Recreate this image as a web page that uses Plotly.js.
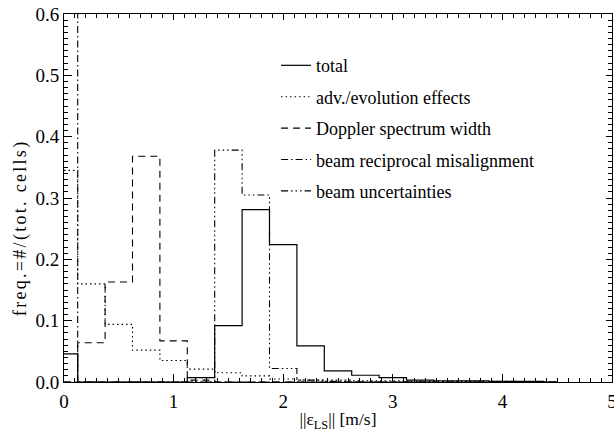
<!DOCTYPE html>
<html>
<head>
<meta charset="utf-8">
<script src="https://cdn.plot.ly/plotly-3.0.1.min.js"></script>
<style>
html,body{margin:0;padding:0;background:#fff;}
#chart{width:614px;height:432px;}
#chart .annotation-text{letter-spacing:2.3px;}
</style>
</head>
<body>
<div id="chart"></div>
<script>
// bin centres [m/s] (bin width 0.25)
const binCenters = [0, 0.25, 0.5, 0.75, 1.0, 1.25, 1.5, 1.75, 2.0, 2.25, 2.5, 2.75, 3.0, 3.25, 3.5, 3.75, 4.0, 4.25, 4.5];
const totalFreq     = [0.046, 0, 0, 0, 0, 0.007, 0.092, 0.281, 0.224, 0.059, 0.018, 0.011, 0.007, 0.003, 0.002, 0.002, 0.001, 0.001, 0];
const advFreq       = [0.345, 0.160, 0.094, 0.052, 0.035, 0.021, 0.015, 0.010, 0.005, 0.003, 0.003, 0.002, 0.002, 0.001, 0.001, 0.001, 0.001, 0, 0];
const dopplerFreq   = [0, 0.064, 0.163, 0.368, 0.067, 0.003, 0, 0, 0, 0, 0, 0, 0, 0, 0, 0, 0, 0, 0];
const reciprocFreq  = [0.96, 0, 0, 0, 0, 0, 0, 0, 0, 0, 0, 0, 0, 0, 0, 0, 0, 0, 0];
const uncertFreq    = [0, 0, 0, 0, 0, 0, 0.378, 0.305, 0.022, 0.003, 0.001, 0, 0, 0, 0, 0, 0, 0, 0];
const seriesNames = ["total", "adv./evolution effects", "Doppler spectrum width", "beam reciprocal misalignment", "beam uncertainties"];
const xTickVals = [0, 1, 2, 3, 4, 5];
const yTickVals = [0, 0.1, 0.2, 0.3, 0.4, 0.5, 0.6];
const xTitle = "||ε<sub>LS</sub>|| [m/s]";
const yTitle = "freq.=#/(tot. cells)";

const FONT = '"Liberation Serif", "Times New Roman", Times, serif';
const dashes = ["solid", "1.5px,3px", "7px,5px", "7px,3px,1.5px,3px", "7px,3px,1.5px,3px,1.5px,3px,1.5px,3px"];
const widths = [1.2, 1.1, 1.1, 1.1, 1.1];
const ys = [totalFreq, advFreq, dopplerFreq, reciprocFreq, uncertFreq];

const traces = ys.map((y, i) => ({
  x: binCenters, y: y, type: "scatter", mode: "lines",
  name: seriesNames[i], legendgroup: "g" + i,
  line: {shape: "hvh", color: "#000", width: widths[i], dash: dashes[i]},
  hoverinfo: "skip"
}));
// empty trace so the mirrored (top/right) tick axes exist
traces.push({x: [], y: [], xaxis: "x2", yaxis: "y2", type: "scatter", mode: "lines", showlegend: false, hoverinfo: "skip"});

const tickFont = {family: FONT, size: 19, color: "#000"};
const axisCommon = {
  showgrid: false, zeroline: false, showline: true, linecolor: "#000", linewidth: 1,
  ticks: "inside", ticklen: 8, tickcolor: "#000", tickwidth: 1, tickfont: tickFont
};
const xMinor = {dtick: 0.1, ticklen: 4, ticks: "inside", tickcolor: "#000", showgrid: false};
const yMinor = {dtick: 0.01, ticklen: 4, ticks: "inside", tickcolor: "#000", showgrid: false};

const layout = {
  width: 614, height: 432,
  font: {family: FONT, size: 17, color: "#000"},
  margin: {l: 64, r: 2, t: 14, b: 50},
  paper_bgcolor: "#fff", plot_bgcolor: "#fff",
  showlegend: true,
  legend: {x: 0.387, xanchor: "left", y: 0.91, yanchor: "top", bgcolor: "rgba(0,0,0,0)",
           font: {family: FONT, size: 18, color: "#000"}, traceorder: "grouped", tracegroupgap: 5},
  xaxis: Object.assign({}, axisCommon, {
    range: [0, 5], tickvals: xTickVals, ticktext: xTickVals.map(String), ticklabeloverflow: "allow",
    ticklabelstandoff: 2, minor: xMinor,
    title: {text: xTitle, font: {family: FONT, size: 17.5, color: "#000"}, standoff: 10}
  }),
  yaxis: Object.assign({}, axisCommon, {
    range: [0, 0.6], tickvals: yTickVals, ticktext: yTickVals.map(v => v.toFixed(1)),
    minor: yMinor
  }),
  xaxis2: Object.assign({}, axisCommon, {
    overlaying: "x", side: "top", anchor: "y2", range: [0, 5], tickvals: xTickVals,
    showticklabels: false, minor: xMinor, ticklen: 6
  }),
  yaxis2: Object.assign({}, axisCommon, {
    overlaying: "y", side: "right", anchor: "x2", range: [0, 0.6], tickvals: yTickVals,
    showticklabels: false, minor: yMinor, ticklen: 6
  }),
  annotations: [{
    text: yTitle, xref: "paper", yref: "paper", x: -0.079, y: 0.42,
    xanchor: "center", yanchor: "middle", textangle: -90, showarrow: false,
    font: {family: FONT, size: 18, color: "#000"}
  }]
};

Plotly.newPlot("chart", traces, layout, {displayModeBar: false, staticPlot: true});
</script>
</body>
</html>
